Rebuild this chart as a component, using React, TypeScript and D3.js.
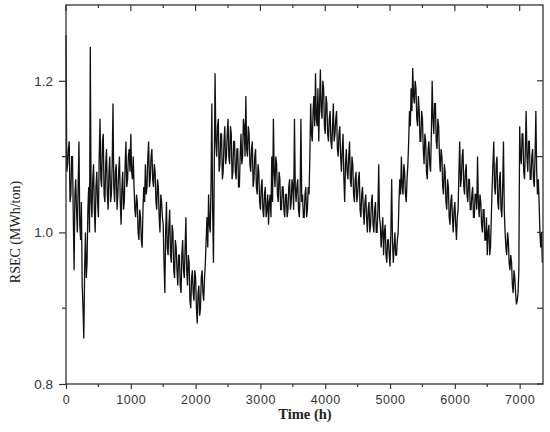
import React, { useEffect, useRef } from 'react';
import * as d3 from 'd3';

// RSEC readings, one every 12.5 h, split into blocks of 1000 h
const block0 = [
  1.26, 1.08, 1.09, 1.11, 1.12, 1.04, 1.05, 1.10, 1.10, 1.02, 0.95, 1.05, 1.07, 1.03, 1.00, 1.06, 1.12, 1.01, 0.99, 1.04,
  0.93, 0.90, 0.86, 0.95, 1.00, 0.94, 0.96, 1.03, 1.06, 1.00, 1.245, 1.04, 1.02, 1.07, 1.09, 1.03, 1.00, 1.06, 1.08, 1.04,
  1.02, 1.10, 1.15, 1.07, 1.06, 1.12, 1.13, 1.05, 1.04, 1.09, 1.11, 1.05, 1.03, 1.08, 1.10, 1.04, 1.05, 1.09, 1.17, 1.06,
  1.04, 1.08, 1.09, 1.03, 1.05, 1.08, 1.10, 1.04, 1.01, 1.06, 1.08, 1.03, 1.04, 1.09, 1.12, 1.06, 1.07, 1.10, 1.11, 1.08,
];
const block1 = [
  1.13, 1.08, 1.07, 1.10, 1.06, 1.03, 1.02, 1.05, 1.04, 1.00, 0.99, 1.03, 1.02, 0.99, 0.98, 1.03, 1.06, 1.04, 1.09, 1.05,
  1.06, 1.10, 1.12, 1.06, 1.07, 1.10, 1.11, 1.07, 1.06, 1.09, 1.08, 1.04, 1.03, 1.07, 1.06, 1.02, 1.00, 1.05, 1.04, 1.02,
  1.01, 0.96, 0.92, 1.00, 1.04, 0.98, 0.97, 1.01, 1.03, 0.97, 0.96, 1.01, 1.00, 0.95, 0.94, 0.99, 0.98, 0.95, 0.93, 0.97,
  0.97, 0.93, 0.92, 0.97, 0.99, 0.95, 0.94, 0.98, 1.02, 0.95, 0.93, 0.97, 0.96, 0.91, 0.90, 0.94, 0.95, 0.92, 0.91, 0.95,
];
const block2 = [
  0.94, 0.90, 0.88, 0.92, 0.93, 0.89, 0.90, 0.94, 0.95, 0.92, 0.91, 0.94, 0.96, 0.99, 1.02, 0.98, 1.05, 1.01, 1.00, 1.06,
  1.17, 1.03, 0.96, 1.08, 1.21, 1.12, 1.10, 1.14, 1.15, 1.08, 1.09, 1.13, 1.13, 1.07, 1.08, 1.12, 1.14, 1.09, 1.10, 1.13,
  1.15, 1.10, 1.09, 1.14, 1.13, 1.07, 1.08, 1.12, 1.12, 1.08, 1.07, 1.11, 1.11, 1.06, 1.06, 1.10, 1.13, 1.09, 1.10, 1.15,
  1.14, 1.10, 1.18, 1.11, 1.10, 1.14, 1.13, 1.09, 1.08, 1.11, 1.12, 1.06, 1.07, 1.10, 1.11, 1.06, 1.05, 1.09, 1.08, 1.04,
];
const block3 = [
  1.03, 1.06, 1.07, 1.03, 1.02, 1.05, 1.06, 1.02, 1.03, 1.05, 1.01, 1.04, 1.05, 1.02, 1.10, 1.04, 1.15, 1.08, 1.06, 1.10,
  1.09, 1.05, 1.04, 1.08, 1.07, 1.03, 1.03, 1.06, 1.06, 1.03, 1.02, 1.05, 1.05, 1.02, 1.03, 1.06, 1.07, 1.03, 1.04, 1.07,
  1.06, 1.03, 1.15, 1.06, 1.04, 1.06, 1.07, 1.03, 1.02, 1.05, 1.15, 1.04, 1.05, 1.02, 1.02, 1.05, 1.06, 1.02, 1.03, 1.06,
  1.05, 1.10, 1.17, 1.13, 1.12, 1.16, 1.18, 1.14, 1.21, 1.15, 1.14, 1.19, 1.12, 1.17, 1.215, 1.16, 1.15, 1.20, 1.19, 1.14,
];
const block4 = [
  1.13, 1.18, 1.17, 1.13, 1.12, 1.15, 1.16, 1.12, 1.11, 1.14, 1.17, 1.12, 1.13, 1.15, 1.16, 1.11, 1.10, 1.13, 1.14, 1.10,
  1.08, 1.11, 1.13, 1.07, 1.04, 1.09, 1.11, 1.08, 1.07, 1.10, 1.12, 1.07, 1.06, 1.10, 1.09, 1.05, 1.04, 1.07, 1.08, 1.04,
  1.05, 1.07, 1.08, 1.03, 1.02, 1.05, 1.06, 1.03, 1.01, 1.04, 1.05, 1.02, 1.00, 1.03, 1.04, 1.00, 1.01, 1.04, 1.05, 1.01,
  1.00, 1.03, 1.04, 1.00, 1.00, 1.03, 1.09, 1.02, 1.01, 0.98, 1.00, 1.02, 0.97, 1.00, 1.01, 0.97, 0.96, 0.99, 0.99, 0.97,
];
const block5 = [
  0.955, 1.00, 1.07, 0.99, 0.96, 0.98, 1.00, 0.97, 0.97, 0.99, 1.00, 1.04, 1.07, 1.05, 1.10, 1.06, 1.05, 1.09, 1.08, 1.05,
  1.04, 1.07, 1.09, 1.12, 1.16, 1.14, 1.19, 1.16, 1.217, 1.18, 1.17, 1.20, 1.19, 1.15, 1.14, 1.18, 1.16, 1.12, 1.12, 1.16,
  1.15, 1.11, 1.09, 1.13, 1.12, 1.08, 1.07, 1.11, 1.12, 1.09, 1.08, 1.13, 1.20, 1.15, 1.13, 1.17, 1.17, 1.12, 1.11, 1.15,
  1.14, 1.10, 1.08, 1.11, 1.10, 1.06, 1.05, 1.09, 1.08, 1.04, 1.03, 1.07, 1.06, 1.02, 1.01, 1.04, 1.05, 1.02, 1.00, 1.03,
];
const block6 = [
  1.04, 1.01, 0.99, 1.02, 1.03, 1.08, 1.12, 1.06, 1.07, 1.10, 1.11, 1.06, 1.05, 1.08, 1.09, 1.05, 1.04, 1.07, 1.07, 1.03,
  1.03, 1.05, 1.06, 1.02, 1.02, 1.05, 1.05, 1.03, 1.10, 1.04, 1.02, 1.05, 1.04, 1.01, 1.00, 1.03, 1.03, 0.99, 0.99, 1.02,
  0.97, 1.00, 1.01, 0.97, 0.98, 1.02, 1.06, 1.09, 1.12, 1.06, 1.05, 1.09, 1.10, 1.04, 1.03, 1.07, 1.08, 1.03, 1.02, 1.06,
  1.12, 1.03, 1.00, 0.98, 0.97, 1.00, 0.99, 0.96, 0.95, 0.97, 0.96, 0.93, 0.92, 0.95, 0.94, 0.92, 0.905, 0.91, 0.92, 0.95,
];
const block7 = [
  1.14, 1.10, 1.09, 1.13, 1.13, 1.08, 1.07, 1.11, 1.16, 1.10, 1.08, 1.12, 1.12, 1.07, 1.07, 1.10, 1.11, 1.07, 1.06, 1.10,
  1.16, 1.08, 1.05, 1.07, 1.04, 1.00, 0.98, 1.00, 0.96,
];

const stepHours = 12.5;
const xTicks = [0, 1000, 2000, 3000, 4000, 5000, 6000, 7000];
const xMinor = [500, 1500, 2500, 3500, 4500, 5500, 6500];
const yTicks = [0.8, 1.0, 1.2];
const yMinor = [0.9, 1.1];

const W = 550;
const H = 432;
const m = { left: 66, right: 543, top: 5, bottom: 384 };

const App = () => {
  const svgRef = useRef<SVGSVGElement>(null);

  useEffect(() => {
    document.body.style.margin = '0';
    const svg = d3.select(svgRef.current);
    svg.selectAll('*').remove();

    const series = [block0, block1, block2, block3, block4, block5, block6, block7]
      .flat()
      .map((v, i) => ({ t: i * stepHours, v }));

    const x = d3.scaleLinear().domain([0, 7360]).range([m.left, m.right]);
    const y = d3.scaleLinear().domain([0.8, 1.3]).range([m.bottom, m.top]);

    const line = d3.line<{ t: number; v: number }>()
      .x(d => x(d.t))
      .y(d => y(d.v));

    svg.append('path')
      .datum(series)
      .attr('d', line)
      .attr('fill', 'none')
      .attr('stroke', '#111')
      .attr('stroke-width', 1.3);

    const axisColor = '#333';
    const sans = "'Liberation Sans', Arial, sans-serif";
    const serif = "'Liberation Serif', 'Times New Roman', serif";

    // bottom axis
    const bottom = svg.append('g').attr('transform', `translate(0,${m.bottom})`);
    bottom.call(
      d3.axisBottom(x).tickValues(xTicks).tickSize(5).tickPadding(6).tickFormat(d3.format('d'))
    );
    bottom.select('.domain').remove();
    bottom.selectAll('line').attr('stroke', axisColor).attr('stroke-width', 1.2);
    bottom.selectAll('text')
      .attr('font-family', sans).attr('font-size', 12.5).attr('fill', '#333')
      .attr('letter-spacing', 0.6);
    bottom.selectAll('.minor').data(xMinor).enter().append('line')
      .attr('x1', d => x(d)).attr('x2', d => x(d))
      .attr('y1', 0).attr('y2', 3)
      .attr('stroke', axisColor).attr('stroke-width', 1.2);

    // left axis
    const left = svg.append('g').attr('transform', `translate(${m.left},0)`);
    left.call(
      d3.axisLeft(y).tickValues(yTicks).tickSize(7).tickPadding(6).tickFormat(d3.format('.1f'))
    );
    left.select('.domain').remove();
    left.selectAll('line').attr('stroke', axisColor).attr('stroke-width', 1.2);
    left.selectAll('text')
      .attr('font-family', sans).attr('font-size', 13.5).attr('fill', '#333');
    left.selectAll('.minor').data(yMinor).enter().append('line')
      .attr('x1', -4).attr('x2', 0)
      .attr('y1', d => y(d)).attr('y2', d => y(d))
      .attr('stroke', axisColor).attr('stroke-width', 1.2);

    // top mirror ticks (inward)
    svg.append('g').selectAll('line')
      .data([...xTicks.map(v => [v, 6]), ...xMinor.map(v => [v, 3])]).enter()
      .append('line')
      .attr('x1', d => x(d[0])).attr('x2', d => x(d[0]))
      .attr('y1', m.top).attr('y2', d => m.top + d[1])
      .attr('stroke', axisColor).attr('stroke-width', 1.2);

    // right mirror ticks (inward)
    svg.append('g').selectAll('line')
      .data([...yTicks, ...yMinor]).enter()
      .append('line')
      .attr('x1', m.right).attr('x2', m.right - 6)
      .attr('y1', d => y(d)).attr('y2', d => y(d))
      .attr('stroke', axisColor).attr('stroke-width', 1.2);

    // frame
    svg.append('rect')
      .attr('x', m.left).attr('y', m.top)
      .attr('width', m.right - m.left).attr('height', m.bottom - m.top)
      .attr('fill', 'none')
      .attr('stroke', axisColor)
      .attr('stroke-width', 1.3);

    // axis titles
    svg.append('text')
      .attr('x', 305).attr('y', 419)
      .attr('text-anchor', 'middle')
      .attr('font-family', serif)
      .attr('font-size', 14.5)
      .attr('font-weight', 'bold')
      .attr('fill', '#222')
      .text('Time (h)');

    svg.append('text')
      .attr('transform', 'translate(20,232) rotate(-90)')
      .attr('text-anchor', 'middle')
      .attr('font-family', serif)
      .attr('font-size', 14)
      .attr('fill', '#222')
      .text('RSEC (MWh/ton)');
  }, []);

  return (
    <div style={{ position: 'absolute', left: 0, top: 0 }}>
      <svg ref={svgRef} width={W} height={H} style={{ display: 'block', background: '#fff' }} />
    </div>
  );
};

export default App;
